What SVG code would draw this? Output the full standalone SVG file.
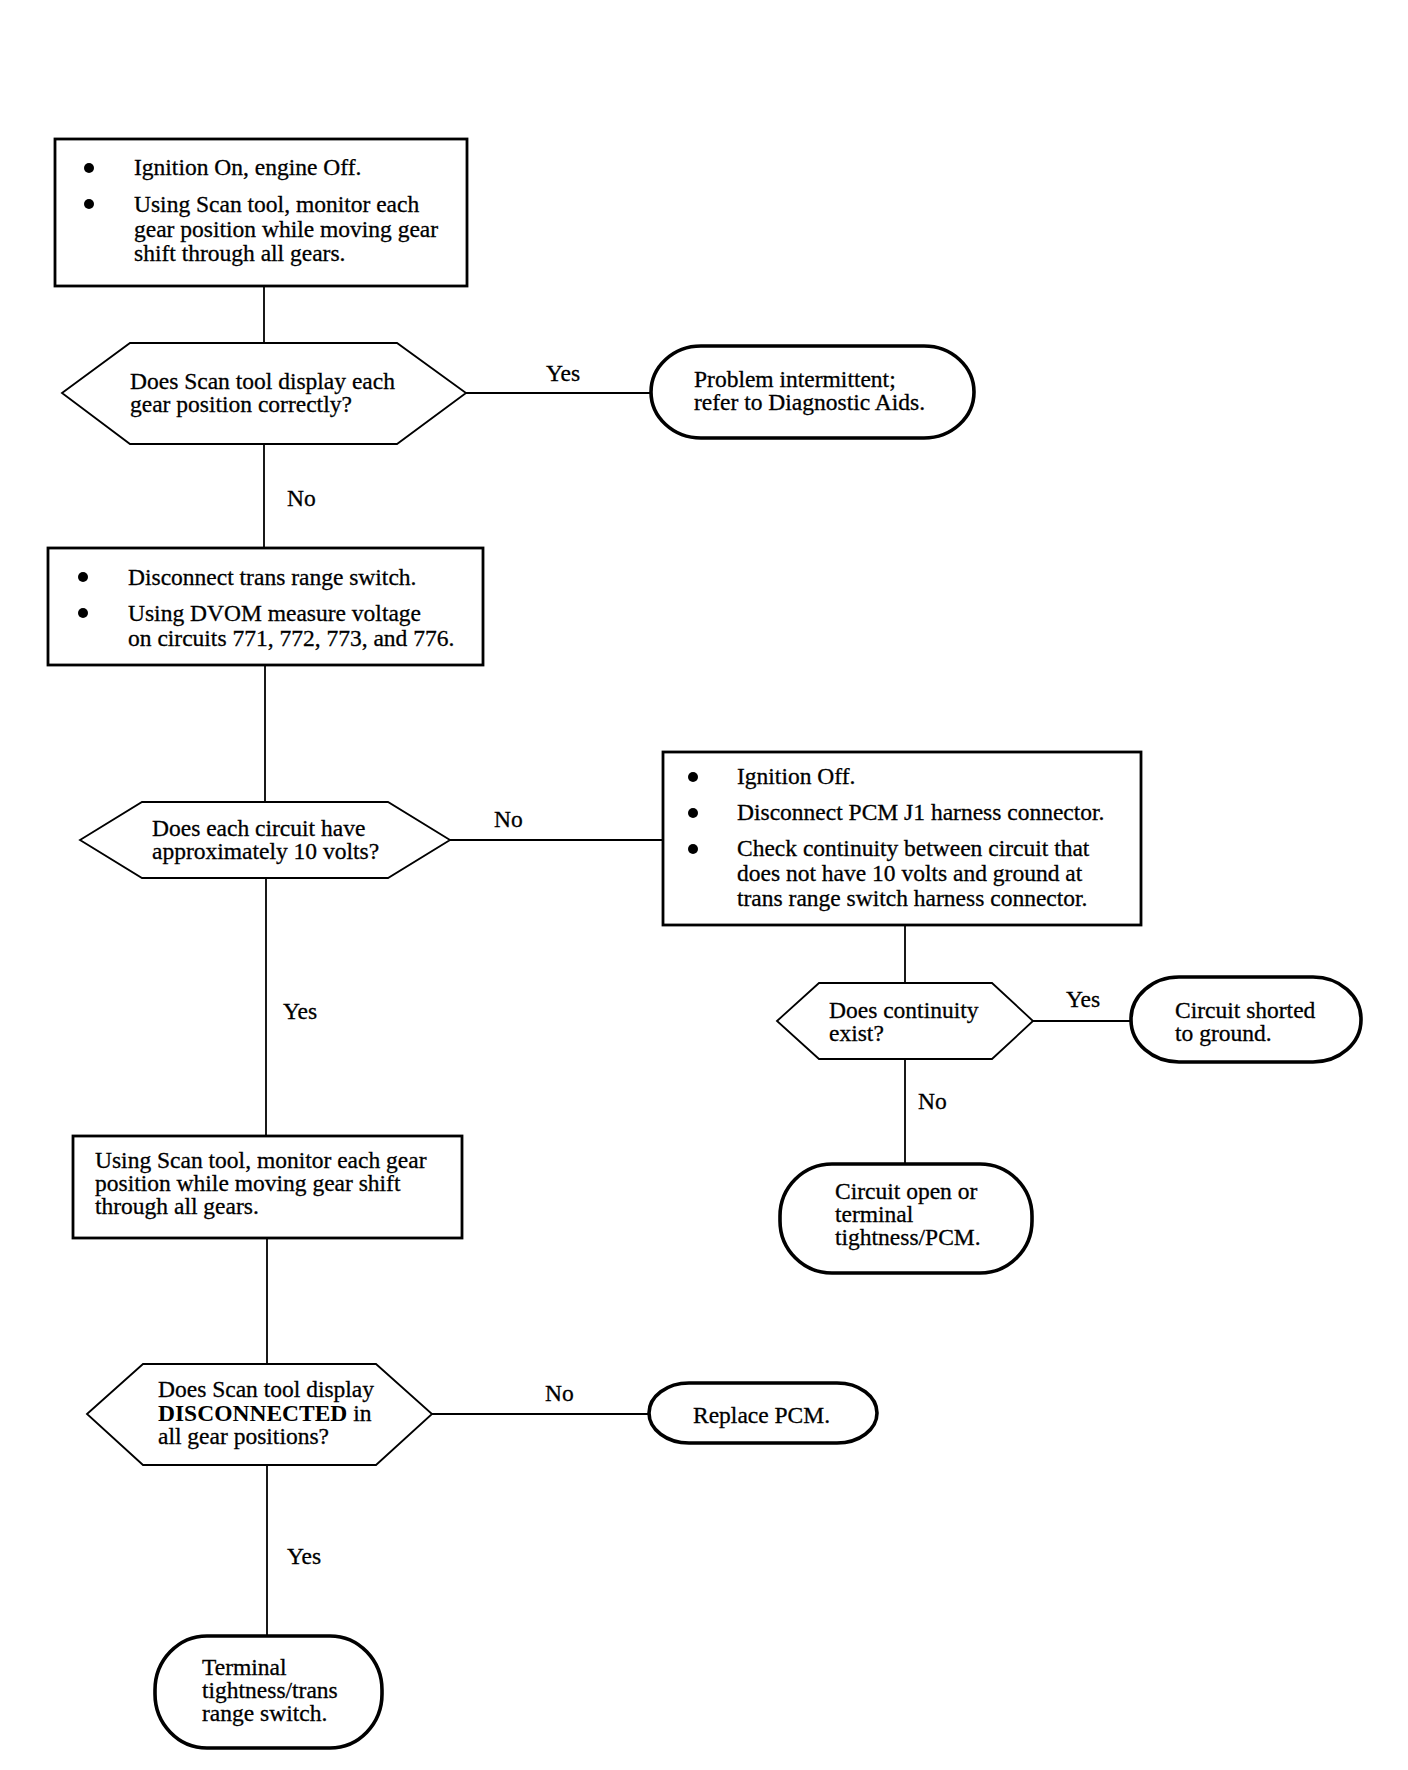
<svg xmlns="http://www.w3.org/2000/svg" width="1408" height="1770" viewBox="0 0 1408 1770">
<style>
  .bg{fill:#fff}
  .box{fill:#fff;stroke:#000;stroke-width:2.8}
  .dia{fill:#fff;stroke:#000;stroke-width:1.8}
  .term{fill:#fff;stroke:#000;stroke-width:3.6}
  .conn line{stroke:#000;stroke-width:1.8}
  text{font-family:"Liberation Serif","Times New Roman",serif;font-size:23.5px;fill:#000;stroke:#000;stroke-width:0.3}
  .b{font-weight:bold;stroke-width:0}
  .dot{fill:#000}
</style>
<rect class="bg" x="0" y="0" width="1408" height="1770"/>

<g id="connectors" class="conn">
  <line x1="264" y1="286" x2="264" y2="343"/>
  <line x1="466" y1="393" x2="651" y2="393"/>
  <line x1="264" y1="444" x2="264" y2="548"/>
  <line x1="265" y1="665" x2="265" y2="802"/>
  <line x1="450" y1="840" x2="663" y2="840"/>
  <line x1="905" y1="925" x2="905" y2="983"/>
  <line x1="1033" y1="1021" x2="1130" y2="1021"/>
  <line x1="905" y1="1059" x2="905" y2="1164"/>
  <line x1="266" y1="878" x2="266" y2="1136"/>
  <line x1="267" y1="1238" x2="267" y2="1363"/>
  <line x1="432" y1="1414" x2="649" y2="1414"/>
  <line x1="267" y1="1466" x2="267" y2="1636"/>
  <text x="546" y="381">Yes</text>
  <text x="287" y="506">No</text>
  <text x="494" y="827">No</text>
  <text x="283" y="1019">Yes</text>
  <text x="1066" y="1007">Yes</text>
  <text x="918" y="1109">No</text>
  <text x="545" y="1401">No</text>
  <text x="287" y="1564">Yes</text>
</g>

<g id="box1">
  <rect class="box" x="55" y="139" width="412" height="147"/>
  <circle class="dot" cx="89" cy="168" r="5"/>
  <circle class="dot" cx="89" cy="204" r="5"/>
  <text x="134" y="175">Ignition On, engine Off.</text>
  <text x="134" y="212">Using Scan tool, monitor each</text>
  <text x="134" y="237">gear position while moving gear</text>
  <text x="134" y="261">shift through all gears.</text>
</g>

<g id="dec1">
  <polygon class="dia" points="62,393 130,343 397,343 466,393 397,444 130,444"/>
  <text x="130" y="389">Does Scan tool display each</text>
  <text x="130" y="412">gear position correctly?</text>
</g>

<g id="term1">
  <rect class="term" x="651" y="346" width="323" height="92" rx="50" ry="46"/>
  <text x="694" y="387">Problem intermittent;</text>
  <text x="694" y="410">refer to Diagnostic Aids.</text>
</g>

<g id="box2">
  <rect class="box" x="48" y="548" width="435" height="117"/>
  <circle class="dot" cx="83" cy="577" r="5"/>
  <circle class="dot" cx="83" cy="613" r="5"/>
  <text x="128" y="585">Disconnect trans range switch.</text>
  <text x="128" y="621">Using DVOM measure voltage</text>
  <text x="128" y="646">on circuits 771, 772, 773, and 776.</text>
</g>

<g id="dec2">
  <polygon class="dia" points="80,840 142,802 388,802 450,840 388,878 142,878"/>
  <text x="152" y="836">Does each circuit have</text>
  <text x="152" y="859">approximately 10 volts?</text>
</g>

<g id="box3">
  <rect class="box" x="663" y="752" width="478" height="173"/>
  <circle class="dot" cx="693" cy="777" r="5"/>
  <circle class="dot" cx="693" cy="813" r="5"/>
  <circle class="dot" cx="693" cy="849" r="5"/>
  <text x="737" y="784">Ignition Off.</text>
  <text x="737" y="820">Disconnect PCM J1 harness connector.</text>
  <text x="737" y="856">Check continuity between circuit that</text>
  <text x="737" y="881">does not have 10 volts and ground at</text>
  <text x="737" y="906">trans range switch harness connector.</text>
</g>

<g id="dec3">
  <polygon class="dia" points="777,1021 819,983 992,983 1033,1021 992,1059 819,1059"/>
  <text x="829" y="1018">Does continuity</text>
  <text x="829" y="1041">exist?</text>
</g>

<g id="term3">
  <rect class="term" x="1131" y="977" width="230" height="85" rx="48" ry="42"/>
  <text x="1175" y="1018">Circuit shorted</text>
  <text x="1175" y="1041">to ground.</text>
</g>

<g id="term4">
  <rect class="term" x="780" y="1164" width="252" height="109" rx="52" ry="52"/>
  <text x="835" y="1199">Circuit open or</text>
  <text x="835" y="1222">terminal</text>
  <text x="835" y="1245">tightness/PCM.</text>
</g>

<g id="box4">
  <rect class="box" x="73" y="1136" width="389" height="102"/>
  <text x="95" y="1168">Using Scan tool, monitor each gear</text>
  <text x="95" y="1191">position while moving gear shift</text>
  <text x="95" y="1214">through all gears.</text>
</g>

<g id="dec4">
  <polygon class="dia" points="87,1414 143,1364 376,1364 432,1414 376,1465 143,1465"/>
  <text x="158" y="1397">Does Scan tool display</text>
  <text x="158" y="1421"><tspan class="b">DISCONNECTED</tspan> in</text>
  <text x="158" y="1444">all gear positions?</text>
</g>

<g id="term5">
  <rect class="term" x="649" y="1383" width="228" height="60" rx="40" ry="30"/>
  <text x="693" y="1423">Replace PCM.</text>
</g>

<g id="term6">
  <rect class="term" x="155" y="1636" width="227" height="112" rx="52" ry="54"/>
  <text x="202" y="1675">Terminal</text>
  <text x="202" y="1698">tightness/trans</text>
  <text x="202" y="1721">range switch.</text>
</g>
</svg>
